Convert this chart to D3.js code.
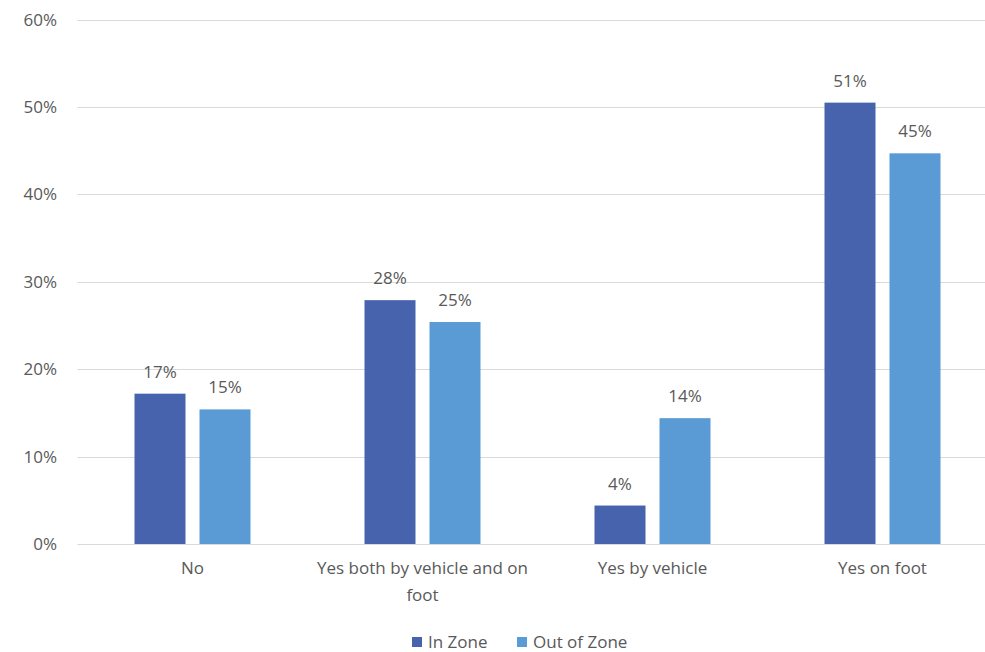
<!DOCTYPE html>
<html>
<head>
<meta charset="utf-8">
<script src="https://cdn.jsdelivr.net/npm/d3@7"></script>
<style>
  body { margin: 0; background: #fff; }
  text { font-family: "Open Sans", "Noto Sans", sans-serif; fill: #595959; }
</style>
</head>
<body>
<div id="chart"></div>
<script>
const categories = ["No", "Yes both by vehicle and on foot", "Yes by vehicle", "Yes on foot"];
const series = ["In Zone", "Out of Zone"];
const inZone = [0.172, 0.279, 0.044, 0.505];
const outOfZone = [0.154, 0.254, 0.144, 0.447];
const yTicks = [0, 0.1, 0.2, 0.3, 0.4, 0.5, 0.6];
const colors = ["#4763ae", "#5b9bd5"];

const width = 985, height = 652;
const svg = d3.select("#chart").append("svg")
  .attr("width", width).attr("height", height);

const y = d3.scaleLinear().domain([0, 0.6]).range([544, 19.6]);
const x0 = d3.scaleBand().domain(categories).range([77.5, 997.5]);
const x1 = d3.scaleBand().domain(series).range([57, 173]).paddingInner(0.2154);

// gridlines
svg.append("g")
  .selectAll("line")
  .data(yTicks)
  .enter()
  .append("line")
  .attr("x1", 77.5).attr("x2", width)
  .attr("y1", (d) => Math.round(y(d)) + 0.5)
  .attr("y2", (d) => Math.round(y(d)) + 0.5)
  .attr("stroke", "#d9d9d9")
  .attr("stroke-width", 1);

// y axis labels
svg.append("g")
  .selectAll("text")
  .data(yTicks)
  .enter()
  .append("text")
  .attr("x", 57)
  .attr("y", (d) => y(d))
  .attr("dy", "0.35em")
  .attr("text-anchor", "end")
  .attr("font-size", "17px")
  .text((d) => d3.format(".0%")(d));

const rows = categories.map((c, i) => ({
  cat: c,
  vals: [
    { s: series[0], v: inZone[i] },
    { s: series[1], v: outOfZone[i] },
  ],
}));

const groups = svg.append("g")
  .selectAll("g")
  .data(rows)
  .enter()
  .append("g")
  .attr("transform", (d) => "translate(" + x0(d.cat) + ",0)");

groups.selectAll("rect")
  .data((d) => d.vals)
  .enter()
  .append("rect")
  .attr("x", (d) => x1(d.s))
  .attr("y", (d) => y(d.v))
  .attr("width", x1.bandwidth())
  .attr("height", (d) => y(0) - y(d.v))
  .attr("fill", (d, i) => colors[i]);

groups.selectAll("text.val")
  .data((d) => d.vals)
  .enter()
  .append("text")
  .attr("class", "val")
  .attr("x", (d) => x1(d.s) + x1.bandwidth() / 2)
  .attr("y", (d) => y(d.v) - 16)
  .attr("text-anchor", "middle")
  .attr("font-size", "17px")
  .text((d) => Math.round(d.v * 100) + "%");

// category labels, wrapped like the original
const catLines = [["No"], ["Yes both by vehicle and on", "foot"], ["Yes by vehicle"], ["Yes on foot"]];
svg.append("g")
  .selectAll("text")
  .data(categories)
  .enter()
  .append("text")
  .attr("x", (d) => x0(d) + x0.bandwidth() / 2)
  .attr("y", 574)
  .attr("text-anchor", "middle")
  .attr("font-size", "17px")
  .each(function (d, i) {
    d3.select(this).selectAll("tspan")
      .data(catLines[i])
      .enter()
      .append("tspan")
      .attr("x", x0(d) + x0.bandwidth() / 2)
      .attr("dy", (t, j) => (j === 0 ? 0 : 27))
      .text((t) => t);
  });

// legend
const legendX = [412, 517];
const legend = svg.append("g")
  .selectAll("g")
  .data(series)
  .enter()
  .append("g")
  .attr("transform", (d, i) => "translate(" + legendX[i] + ",637)");

legend.append("rect")
  .attr("width", 10).attr("height", 10)
  .attr("fill", (d, i) => colors[i]);

legend.append("text")
  .attr("x", 16).attr("y", 5)
  .attr("dy", "0.35em")
  .attr("font-size", "17px")
  .text((d) => d);
</script>
</body>
</html>
